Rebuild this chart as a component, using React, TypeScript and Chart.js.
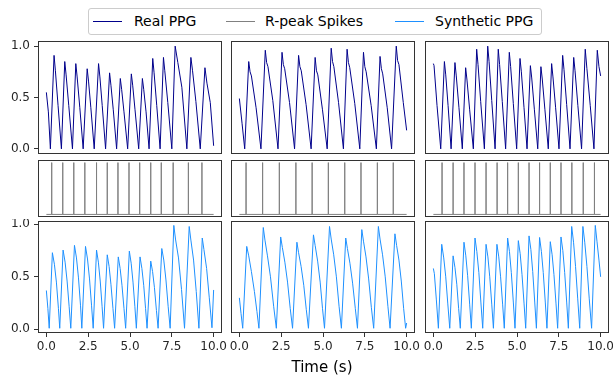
import React, { useEffect, useRef } from "react";
import { Chart, registerables } from "chart.js";

Chart.register(...registerables);
Chart.defaults.font.family = "'DejaVu Sans', sans-serif";

// ---------- data ----------
const xTicks = [0, 2.5, 5, 7.5, 10];
const yTicks = [0, 0.5, 1.0];
const seriesLabels = ["Real PPG", "R-peak Spikes", "Synthetic PPG"];
const xLabel = "Time (s)";

const realT1 = [0, 0.12, 0.24, 0.46, 0.54, 0.7, 0.9, 1.1, 1.18, 1.34, 1.56, 1.76, 1.84, 2.0, 2.2, 2.44, 2.52, 2.66, 2.86, 3.12, 3.2, 3.34, 3.54, 3.78, 3.86, 4.0, 4.2, 4.42, 4.5, 4.64, 4.86, 5.08, 5.16, 5.3, 5.52, 5.74, 5.82, 5.96, 6.14, 6.36, 6.44, 6.6, 6.8, 7.0, 7.08, 7.26, 7.5, 7.7, 7.86, 8.1, 8.4, 8.64, 8.74, 8.94, 9.2, 9.48, 9.6, 9.8, 10];
const realV1 = [0.55, 0.36, 0, 0.91, 0.76, 0.42, 0, 0.85, 0.72, 0.42, 0, 0.83, 0.7, 0.4, 0, 0.78, 0.66, 0.4, 0, 0.83, 0.7, 0.42, 0, 0.74, 0.62, 0.38, 0, 0.685, 0.58, 0.36, 0, 0.73, 0.62, 0.38, 0, 0.685, 0.58, 0.36, 0, 0.88, 0.74, 0.42, 0, 0.89, 0.76, 0.45, 0, 1.0, 0.84, 0.6, 0, 0.89, 0.76, 0.46, 0, 0.79, 0.64, 0.45, 0.03];

const realT2 = [0, 0.16, 0.32, 0.56, 0.64, 0.72, 1.0, 1.29, 1.55, 1.63, 1.71, 2.0, 2.31, 2.55, 2.63, 2.71, 3.0, 3.3, 3.54, 3.62, 3.7, 3.99, 4.29, 4.53, 4.61, 4.69, 4.97, 5.25, 5.49, 5.57, 5.65, 5.93, 6.22, 6.44, 6.52, 6.6, 6.9, 7.2, 7.42, 7.5, 7.58, 7.88, 8.19, 8.41, 8.49, 8.57, 8.84, 9.1, 9.38, 9.46, 9.54, 9.8, 10];
const realV2 = [0.49, 0.25, 0, 0.85, 0.75, 0.71, 0.4, 0, 0.96, 0.84, 0.8, 0.47, 0, 0.94, 0.82, 0.78, 0.45, 0, 0.91, 0.8, 0.76, 0.43, 0, 0.89, 0.76, 0.72, 0.38, 0, 0.98, 0.85, 0.8, 0.45, 0, 0.97, 0.84, 0.79, 0.44, 0, 0.94, 0.8, 0.75, 0.42, 0, 0.9, 0.78, 0.73, 0.4, 0, 1.0, 0.86, 0.82, 0.45, 0.18];

const realT3 = [0, 0.04, 0.22, 0.44, 0.66, 0.74, 0.88, 1.06, 1.29, 1.37, 1.53, 1.73, 1.93, 2.01, 2.17, 2.39, 2.59, 2.67, 2.83, 3.05, 3.25, 3.33, 3.49, 3.69, 3.88, 3.96, 4.12, 4.32, 4.54, 4.62, 4.78, 4.98, 5.18, 5.26, 5.42, 5.6, 5.8, 5.88, 6.04, 6.24, 6.43, 6.51, 6.67, 6.87, 7.07, 7.15, 7.31, 7.51, 7.73, 7.81, 7.97, 8.17, 8.39, 8.47, 8.64, 8.86, 9.08, 9.18, 9.38, 9.6, 9.8, 9.9, 10];
const realV3 = [0.83, 0.81, 0.42, 0, 0.85, 0.72, 0.42, 0, 0.84, 0.71, 0.4, 0, 0.79, 0.67, 0.38, 0, 0.97, 0.82, 0.46, 0, 1.0, 0.85, 0.47, 0, 0.97, 0.82, 0.46, 0, 0.94, 0.8, 0.44, 0, 0.88, 0.75, 0.4, 0, 0.81, 0.69, 0.38, 0, 0.8, 0.68, 0.38, 0, 0.83, 0.7, 0.4, 0, 0.91, 0.77, 0.43, 0, 0.89, 0.76, 0.42, 0, 0.97, 0.78, 0.42, 0, 0.96, 0.8, 0.71];

const spikes1 = [0.32, 0.98, 1.64, 2.3, 3.0, 3.64, 4.28, 4.94, 5.58, 6.24, 6.87, 7.58, 8.49, 9.3];
const spikes2 = [0.4, 1.39, 2.39, 3.38, 4.35, 5.32, 6.3, 7.27, 8.25, 9.2];
const spikes3 = [0.52, 1.18, 1.83, 2.49, 3.15, 3.81, 4.44, 5.08, 5.72, 6.35, 6.99, 7.63, 8.28, 8.96, 9.63];

const synthT1 = [0, 0.09, 0.17, 0.36, 0.48, 0.6, 0.72, 0.8, 1.0, 1.12, 1.24, 1.36, 1.46, 1.68, 1.8, 1.92, 2.04, 2.12, 2.34, 2.46, 2.58, 2.7, 2.8, 3.0, 3.11, 3.22, 3.33, 3.42, 3.64, 3.75, 3.86, 3.98, 4.08, 4.3, 4.41, 4.52, 4.64, 4.74, 4.96, 5.07, 5.18, 5.29, 5.38, 5.6, 5.71, 5.82, 5.93, 6.02, 6.24, 6.35, 6.46, 6.58, 6.68, 6.9, 7.02, 7.15, 7.28, 7.4, 7.62, 7.72, 7.9, 8.08, 8.26, 8.54, 8.64, 8.8, 8.96, 9.12, 9.32, 9.42, 9.58, 9.74, 9.9, 10];
const synthV1 = [0.37, 0.2, 0.01, 0.73, 0.62, 0.45, 0.2, 0.01, 0.755, 0.64, 0.46, 0.22, 0.01, 0.8, 0.68, 0.49, 0.23, 0.01, 0.79, 0.67, 0.48, 0.23, 0.01, 0.755, 0.64, 0.46, 0.22, 0.01, 0.71, 0.6, 0.43, 0.2, 0.01, 0.69, 0.58, 0.42, 0.2, 0.01, 0.745, 0.63, 0.45, 0.22, 0.01, 0.69, 0.58, 0.42, 0.2, 0.01, 0.65, 0.55, 0.4, 0.18, 0.01, 0.77, 0.66, 0.47, 0.22, 0.01, 0.99, 0.86, 0.68, 0.38, 0.01, 0.98, 0.85, 0.66, 0.36, 0.01, 0.87, 0.76, 0.58, 0.3, 0.015, 0.375];

const synthT2 = [0, 0.1, 0.2, 0.44, 0.56, 0.72, 0.9, 1.05, 1.17, 1.43, 1.53, 1.68, 1.86, 2.05, 2.21, 2.47, 2.57, 2.72, 2.88, 3.04, 3.18, 3.44, 3.54, 3.69, 3.85, 4.0, 4.13, 4.43, 4.53, 4.68, 4.83, 4.97, 5.09, 5.39, 5.49, 5.64, 5.8, 5.96, 6.1, 6.36, 6.46, 6.61, 6.77, 6.93, 7.06, 7.32, 7.42, 7.57, 7.73, 7.89, 8.03, 8.31, 8.41, 8.56, 8.72, 8.88, 9.01, 9.3, 9.4, 9.54, 9.68, 9.82, 9.94, 10];
const synthV2 = [0.3, 0.15, 0.01, 0.79, 0.7, 0.55, 0.36, 0.17, 0.01, 0.97, 0.85, 0.7, 0.5, 0.22, 0.01, 0.88, 0.78, 0.64, 0.45, 0.2, 0.01, 0.83, 0.73, 0.6, 0.42, 0.19, 0.01, 0.9, 0.8, 0.65, 0.45, 0.2, 0.01, 0.98, 0.86, 0.71, 0.5, 0.22, 0.01, 0.87, 0.77, 0.63, 0.44, 0.2, 0.01, 0.95, 0.84, 0.69, 0.48, 0.21, 0.01, 0.98, 0.86, 0.71, 0.5, 0.22, 0.01, 0.91, 0.8, 0.66, 0.46, 0.2, 0.01, 0.06];

const synthT3 = [0, 0.06, 0.18, 0.3, 0.5, 0.62, 0.74, 0.86, 0.98, 1.18, 1.29, 1.4, 1.51, 1.61, 1.83, 1.94, 2.05, 2.17, 2.27, 2.49, 2.6, 2.72, 2.84, 2.95, 3.15, 3.26, 3.37, 3.49, 3.59, 3.8, 3.91, 4.02, 4.14, 4.24, 4.44, 4.55, 4.66, 4.78, 4.88, 5.08, 5.19, 5.3, 5.42, 5.52, 5.72, 5.83, 5.94, 6.06, 6.16, 6.35, 6.46, 6.57, 6.69, 6.79, 6.99, 7.1, 7.21, 7.33, 7.43, 7.63, 7.74, 7.85, 7.97, 8.07, 8.27, 8.38, 8.5, 8.63, 8.75, 8.94, 9.05, 9.18, 9.32, 9.46, 9.68, 9.78, 9.9, 10];
const synthV3 = [0.58, 0.53, 0.28, 0.01, 0.81, 0.68, 0.5, 0.25, 0.01, 0.7, 0.59, 0.43, 0.2, 0.01, 0.83, 0.7, 0.51, 0.24, 0.01, 0.87, 0.74, 0.54, 0.26, 0.01, 0.81, 0.69, 0.5, 0.24, 0.01, 0.81, 0.69, 0.5, 0.24, 0.01, 0.87, 0.74, 0.54, 0.26, 0.01, 0.845, 0.72, 0.52, 0.25, 0.01, 0.89, 0.76, 0.55, 0.26, 0.01, 0.875, 0.74, 0.54, 0.26, 0.01, 0.835, 0.71, 0.52, 0.25, 0.01, 0.88, 0.75, 0.54, 0.26, 0.01, 0.98, 0.83, 0.6, 0.29, 0.01, 0.98, 0.83, 0.6, 0.29, 0.01, 0.99, 0.84, 0.66, 0.5];

// ---------- styling / layout ----------
const COLORS = ["#00008b", "#808080", "#1e90ff"];
const COL_LEFT = [38, 231, 425];
const COL_W = 184;
const ROWS = [
  { top: 41, h: 113, yMin: -0.05, yMax: 1.05 },
  { top: 160, h: 57, yMin: -0.05, yMax: 1.05 },
  { top: 221, h: 112, yMin: -0.035, yMax: 1.032 },
];
const Y_AXIS_W = 38;
const X_AXIS_H = 30;
const PAD = 2;
const LABEL_PAD = 14;
const INK = "#262626";
const FRAME = "#333333";

type Pt = { x: number; y: number };
const zipPts = (t: number[], v: number[]): Pt[] => t.map((x, i) => ({ x, y: v[i] }));
const spikePts = (s: number[]): Pt[] => {
  const out: Pt[] = [{ x: 0, y: 0 }];
  s.forEach((x) => out.push({ x, y: 0 }, { x, y: 1 }, { x, y: 0 }));
  out.push({ x: 10, y: 0 });
  return out;
};

const panelData: Pt[][][] = [
  [zipPts(realT1, realV1), zipPts(realT2, realV2), zipPts(realT3, realV3)],
  [spikePts(spikes1), spikePts(spikes2), spikePts(spikes3)],
  [zipPts(synthT1, synthV1), zipPts(synthT2, synthV2), zipPts(synthT3, synthV3)],
];

const framePlugin = {
  id: "frame",
  afterDatasetsDraw(chart: any) {
    const { ctx, chartArea: a } = chart;
    ctx.save();
    ctx.strokeStyle = FRAME;
    ctx.lineWidth = 1;
    ctx.strokeRect(a.left + 0.5, a.top + 0.5, a.right - a.left - 1, a.bottom - a.top - 1);
    ctx.restore();
  },
};

function Panel({ row, col }: { row: number; col: number }) {
  const ref = useRef<HTMLCanvasElement | null>(null);
  const hasY = col === 0 && row !== 1;
  const hasX = row === 2;
  const r = ROWS[row];
  const padL = hasY ? 0 : hasX ? LABEL_PAD : PAD;
  const padR = hasX ? LABEL_PAD : PAD;
  const padT = PAD;
  const padB = hasX ? 0 : PAD;
  const left = COL_LEFT[col] - padL - (hasY ? Y_AXIS_W : 0);
  const top = r.top - padT;
  const width = COL_W + padL + padR + (hasY ? Y_AXIS_W : 0);
  const height = r.h + padT + padB + (hasX ? X_AXIS_H : 0);

  useEffect(() => {
    if (!ref.current) return;
    const tickFont = { size: 12, family: "'DejaVu Sans', sans-serif" };
    const chart = new Chart(ref.current, {
      type: "line",
      data: {
        datasets: [
          {
            label: seriesLabels[row],
            data: panelData[row][col],
            borderColor: COLORS[row],
            borderWidth: 1,
            pointRadius: 0,
            tension: 0,
            fill: false,
          },
        ],
      },
      options: {
        responsive: false,
        maintainAspectRatio: false,
        animation: false,
        devicePixelRatio: 1,
        events: [],
        layout: { padding: { left: padL, right: padR, top: padT, bottom: padB } },
        plugins: { legend: { display: false }, tooltip: { enabled: false } },
        scales: {
          x: {
            type: "linear",
            min: -0.5,
            max: 10.5,
            display: hasX,
            afterBuildTicks: (ax: any) => {
              ax.ticks = xTicks.map((value) => ({ value }));
            },
            afterFit: (ax: any) => {
              if (!hasX) return;
              ax.height = X_AXIS_H;
              ax.paddingLeft = 0;
              ax.paddingRight = 0;
            },
            ticks: {
              callback: (v: any) => Number(v).toFixed(1),
              font: tickFont,
              color: INK,
              padding: 3,
              maxRotation: 0,
              autoSkip: false,
            },
            grid: { drawOnChartArea: false, drawTicks: true, tickLength: 4, color: FRAME },
            border: { display: false },
          },
          y: {
            type: "linear",
            min: r.yMin,
            max: r.yMax,
            display: hasY,
            afterBuildTicks: (ax: any) => {
              ax.ticks = yTicks.map((value) => ({ value }));
            },
            afterFit: (ax: any) => {
              if (!hasY) return;
              ax.width = Y_AXIS_W;
              ax.paddingTop = 0;
              ax.paddingBottom = 0;
            },
            ticks: {
              callback: (v: any) => Number(v).toFixed(1),
              font: tickFont,
              color: INK,
              padding: 4,
              autoSkip: false,
            },
            grid: { drawOnChartArea: false, drawTicks: true, tickLength: 4, color: FRAME },
            border: { display: false },
          },
        },
      } as any,
      plugins: [framePlugin],
    });
    return () => chart.destroy();
  }, [row, col]);

  return (
    <canvas
      ref={ref}
      width={width}
      height={height}
      style={{ position: "absolute", left, top, width, height }}
    />
  );
}

function Legend() {
  const items = [
    { line: 93, text: 134 },
    { line: 226, text: 265 },
    { line: 395, text: 435 },
  ];
  return (
    <div>
      <div
        style={{
          position: "absolute",
          left: 88,
          top: 8,
          width: 452,
          height: 25,
          border: "1px solid #cccccc",
          borderRadius: 3,
          background: "#fff",
        }}
      />
      {items.map((it, i) => (
        <React.Fragment key={i}>
          <div
            style={{
              position: "absolute",
              left: it.line,
              top: 21,
              width: 29,
              height: 1,
              background: COLORS[i],
            }}
          />
          <div
            style={{
              position: "absolute",
              left: it.text,
              top: 13,
              fontFamily: "'DejaVu Sans', sans-serif",
              fontSize: 14,
              lineHeight: "16px",
              color: "#000",
              whiteSpace: "nowrap",
            }}
          >
            {seriesLabels[i]}
          </div>
        </React.Fragment>
      ))}
    </div>
  );
}

export default function App() {
  const cells: { row: number; col: number }[] = [];
  for (let row = 0; row < 3; row++) for (let col = 0; col < 3; col++) cells.push({ row, col });
  return (
    <div style={{ position: "absolute", left: 0, top: 0, width: 613, height: 375, background: "#fff" }}>
      <Legend />
      {cells.map((c) => (
        <Panel key={`${c.row}-${c.col}`} row={c.row} col={c.col} />
      ))}
      <div
        style={{
          position: "absolute",
          left: 222,
          width: 200,
          top: 358,
          textAlign: "center",
          fontFamily: "'DejaVu Sans', sans-serif",
          fontSize: 15,
          lineHeight: "18px",
          color: "#000",
        }}
      >
        {xLabel}
      </div>
    </div>
  );
}
